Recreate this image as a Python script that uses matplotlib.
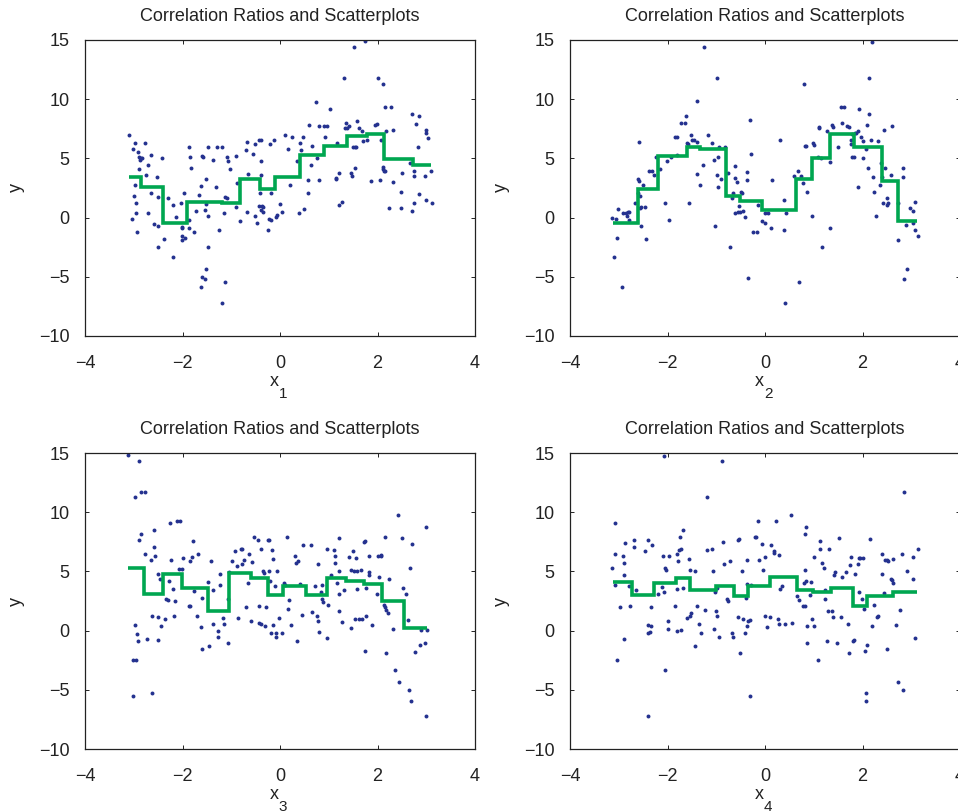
import matplotlib
matplotlib.use("Agg")
import matplotlib.pyplot as plt

plt.rcParams['font.family'] = ['Liberation Sans', 'DejaVu Sans']
plt.rcParams['mathtext.default'] = 'regular'

title_text = "Correlation Ratios and Scatterplots"
x_names = ["x", "x", "x", "x"]
x_subs = ["1", "2", "3", "4"]
x_ticks = [-4, -2, 0, 2, 4]
y_ticks = [-10, -5, 0, 5, 10, 15]

# ---------------- panel 1 ----------------
x1 = [-3.09,-2.97,-2.76,-3.02,-2.91,-2.89,-2.86,-2.87,-2.84,-2.65,
      -2.42,-2.70,-2.89,-2.74,-2.53,-2.98,-2.64,-3.00,-2.51,-2.96,
      -2.30,-2.20,-2.04,-1.96,-2.96,-2.71,-3.04,-2.94,-2.59,-2.51,
      -2.38,-2.51,-2.20,-2.13,-2.01,-2.01,-1.86,-1.95,-2.01,-2.01,
      -1.86,-1.77,-1.73,-1.66,-1.87,-1.85,-1.83,-1.61,-1.58,-1.47,
      -1.52,-1.62,-1.52,-1.53,-1.48,-1.47,-1.52,-1.61,-1.53,-1.62,
      -1.37,-1.32,-1.30,-1.19,-1.09,-1.07,-1.03,-1.13,-1.08,-1.14,
      -1.26,-1.13,-1.19,-0.90,-0.88,-0.90,-0.82,-0.70,-0.68,-0.66,
      -0.55,-0.52,-0.44,-0.38,-0.38,-0.40,-0.42,-0.44,-0.37,-0.35,
      -0.40,-0.35,-0.51,-0.48,-0.67,-0.20,-0.12,-0.18,-0.23,-0.18,
      -0.24,-0.07,-0.08,0.01,0.05,0.10,0.16,0.25,0.20,0.34,
      0.38,0.41,0.44,0.47,0.50,0.59,0.57,0.58,0.63,0.66,
      0.74,0.75,0.81,0.81,0.90,0.96,0.92,1.02,1.16,1.14,
      1.15,1.22,1.20,1.28,1.31,1.35,1.34,1.37,1.41,1.45,
      1.47,1.49,1.54,1.56,1.53,1.52,1.57,1.62,1.68,1.71,
      1.75,1.79,1.86,1.95,1.99,2.00,2.08,2.12,2.16,2.17,
      2.12,2.14,2.11,2.16,2.06,2.27,2.32,2.31,2.23,2.48,
      2.49,2.51,2.66,2.70,2.79,2.85,2.83,2.75,2.75,2.85,
      2.75,2.71,3.00,3.03,2.97,3.09,3.00,3.11,3.00]
y1 = [6.94,6.32,6.26,5.81,5.56,5.14,5.06,4.86,5.00,5.31,
      5.06,4.44,4.07,3.57,3.40,2.75,2.11,1.83,1.74,1.26,
      1.63,1.10,1.21,2.11,0.37,0.42,-0.08,-1.18,-0.51,-0.73,
      -1.80,-2.47,-3.31,0.03,-0.76,-0.90,-0.17,-1.71,-1.55,-1.85,
      -0.84,-1.21,0.56,1.88,5.93,5.14,4.19,5.20,5.08,5.98,
      3.29,2.70,1.18,0.65,0.17,-2.50,-4.35,-5.03,-5.22,-5.90,
      4.86,2.61,5.96,5.98,5.11,4.75,4.07,1.71,1.63,0.42,
      -1.04,-5.45,-7.22,5.20,2.92,0.93,-0.25,5.70,6.35,3.68,
      5.34,6.21,6.55,6.55,4.80,3.57,2.11,0.98,1.01,0.90,
      0.65,0.48,0.14,-0.48,0.48,6.21,6.55,2.08,-0.14,-0.17,
      -1.04,0.22,0.08,1.12,0.51,6.94,5.76,6.83,2.72,4.80,
      0.42,6.32,5.70,6.83,0.73,7.84,3.17,2.05,4.41,6.04,
      9.80,5.06,7.70,3.17,7.70,7.70,6.77,9.16,6.26,3.37,
      3.29,3.74,1.04,1.32,11.77,8.01,7.58,7.53,7.72,3.74,
      3.51,5.93,5.93,5.93,4.21,14.44,8.20,7.56,7.28,6.46,
      14.92,6.55,3.12,7.84,7.92,11.80,6.57,11.32,9.35,7.30,
      4.13,3.96,4.24,3.90,3.17,9.30,7.39,3.01,0.84,0.84,
      2.19,3.74,4.63,8.79,7.92,8.57,5.98,3.93,3.51,2.02,
      1.26,0.56,7.16,6.74,3.51,3.90,1.49,1.21,7.44]
edges1 = [-3.09,-2.85,-2.40,-1.91,-1.20,-0.82,-0.41,-0.10,0.42,0.91,1.37,1.78,2.13,2.73,3.09]
means1 = [3.40,2.61,-0.42,1.35,1.21,3.26,2.39,3.46,5.25,6.04,6.88,7.05,4.92,4.44]

# ---------------- panel 2 ----------------
x2 = [-3.14,-3.05,-3.09,-3.04,-3.02,-2.92,-2.94,-2.85,-2.81,-2.83,
      -2.80,-2.79,-2.66,-2.61,-2.60,-2.58,-2.57,-2.54,-2.56,-2.55,
      -2.51,-2.58,-2.46,-2.44,-2.38,-2.31,-2.27,-2.24,-2.15,-2.05,
      -2.01,-1.97,-1.93,-1.84,-1.81,-1.80,-1.72,-1.64,-1.62,-1.61,
      -1.57,-1.56,-1.52,-1.49,-1.45,-1.39,-1.40,-1.39,-1.33,-1.28,
      -1.26,-1.17,-1.09,-1.04,-1.02,-0.98,-0.99,-0.97,-0.96,-0.94,
      -0.90,-0.82,-0.75,-0.72,-0.68,-0.66,-0.61,-0.61,-0.58,-0.61,
      -0.56,-0.53,-0.52,-0.49,-0.48,-0.46,-0.41,-0.37,-0.37,-0.35,
      -0.30,-0.29,-0.25,-0.16,-0.14,-0.07,-0.01,0.00,0.12,0.15,
      0.07,0.31,0.38,0.39,0.40,0.44,0.59,0.68,0.70,0.73,
      0.77,0.81,0.83,0.85,0.87,0.96,0.99,1.01,1.08,1.11,
      1.11,1.15,1.17,1.27,1.33,1.33,1.37,1.40,1.50,1.57,
      1.56,1.62,1.69,1.72,1.76,1.77,1.79,1.79,1.83,1.84,
      1.87,1.90,1.91,1.93,1.97,2.01,2.02,2.08,2.10,2.13,
      2.14,2.17,2.12,2.19,2.22,2.23,2.27,2.32,2.36,2.38,
      2.41,2.42,2.44,2.46,2.50,2.51,2.53,2.59,2.61,2.72,
      2.73,2.84,2.84,2.85,2.90,2.92,2.98,3.03,3.04,3.07,
      3.07,3.13]
y2 = [-0.06,-0.14,-3.31,-1.71,0.73,0.39,-5.90,0.42,0.51,0.11,
      -0.20,0.51,1.26,2.05,3.26,3.12,1.83,0.93,0.84,-0.70,
      2.75,6.38,0.93,-1.80,3.90,3.90,3.57,5.08,4.13,1.21,
      4.78,-0.22,5.08,6.83,6.77,5.28,7.95,7.95,8.57,6.32,
      6.24,1.21,6.94,6.55,6.55,6.35,9.83,3.68,2.72,4.44,
      14.41,6.97,6.32,4.86,-0.70,11.80,3.57,2.56,5.14,5.93,
      3.26,5.93,3.79,-2.47,1.63,2.11,4.38,3.31,2.98,0.42,
      0.45,1.01,0.45,2.19,2.05,0.53,0.03,3.82,3.17,-5.06,
      8.23,5.37,-1.18,-1.18,1.07,-0.25,-0.48,0.37,-0.84,3.17,
      0.42,6.55,1.52,-1.04,-7.22,0.42,3.54,3.90,-5.45,3.51,
      2.89,11.32,6.07,6.01,2.13,0.14,6.26,6.12,5.08,7.61,
      7.53,5.06,-2.50,7.28,4.72,-0.84,7.81,7.67,5.98,7.95,
      9.30,9.30,7.72,7.67,6.21,6.55,7.02,5.08,5.14,7.11,
      7.16,7.33,2.61,9.16,6.83,6.49,5.03,5.79,7.84,11.77,
      8.79,6.55,4.19,14.86,3.40,2.16,0.17,6.49,2.78,4.58,
      3.40,1.21,7.39,4.16,1.63,1.07,1.21,3.60,7.70,1.21,
      -1.85,4.21,3.40,-5.20,-0.62,-4.35,0.84,-0.48,0.56,1.29,
      -1.04,-1.52]
edges2 = [-3.12,-2.61,-2.20,-1.60,-1.33,-0.79,-0.51,-0.06,0.63,0.97,1.34,1.82,2.40,2.72,3.12]
means2 = [-0.48,2.42,5.20,5.98,5.79,1.85,1.40,0.65,3.23,5.00,7.05,5.98,3.12,-0.28]

# ---------------- panel 3 ----------------
x3 = [-3.12,-2.90,-2.97,-2.86,-2.77,-2.86,-2.90,-2.76,-2.98,-2.94,
      -2.91,-3.02,-2.95,-3.02,-2.72,-2.65,-2.63,-2.59,-2.59,-2.57,
      -2.51,-2.47,-2.51,-2.51,-2.44,-2.35,-2.62,-2.33,-2.29,-2.26,
      -2.27,-2.24,-2.20,-2.16,-2.18,-2.12,-2.05,-2.08,-2.01,-1.99,
      -1.86,-1.84,-1.84,-1.79,-1.80,-1.76,-1.71,-1.69,-1.62,-1.61,
      -1.60,-1.48,-1.45,-1.41,-1.38,-1.37,-1.28,-1.27,-1.24,-1.23,
      -1.16,-1.14,-1.06,-1.07,-1.04,-0.98,-0.92,-0.89,-0.86,-0.81,
      -0.78,-0.77,-0.73,-0.70,-0.66,-0.63,-0.60,-0.57,-0.53,-0.46,
      -0.44,-0.43,-0.40,-0.39,-0.34,-0.33,-0.31,-0.29,-0.24,-0.22,
      -0.23,-0.20,-0.19,-0.16,-0.15,-0.14,-0.10,-0.08,-0.09,-0.07,
      -0.02,0.05,0.08,0.10,0.15,0.17,0.18,0.23,0.31,0.33,
      0.35,0.37,0.41,0.46,0.48,0.63,0.66,0.72,0.77,0.76,
      0.78,0.81,0.84,0.86,0.87,0.89,0.96,0.97,0.98,1.04,
      1.11,1.12,1.13,1.17,1.21,1.22,1.22,1.22,1.27,1.32,
      1.41,1.45,1.45,1.50,1.52,1.54,1.56,1.57,1.58,1.62,
      1.66,1.68,1.72,1.74,1.75,1.76,1.77,1.82,1.83,1.83,
      1.89,1.98,2.01,2.03,2.07,2.08,2.13,2.15,2.17,2.15,
      2.18,2.22,2.24,2.32,2.35,2.42,2.45,2.50,2.53,2.58,
      2.63,2.64,2.66,2.68,2.70,2.76,2.87,2.90,2.97,2.99,
      3.00,3.02]
y3 = [14.79,14.34,11.26,11.74,11.68,8.15,7.65,6.50,0.50,-0.25,
      -0.87,-2.52,-2.52,-5.49,-0.73,5.94,1.20,8.52,7.09,6.33,
      4.76,4.37,1.15,-0.76,0.39,0.98,-5.24,2.63,2.58,9.10,
      4.15,5.99,3.53,2.49,1.26,9.24,9.24,5.24,5.24,6.16,
      2.07,2.07,5.88,7.56,6.22,3.33,1.20,6.44,0.34,-1.54,
      2.74,4.12,-1.26,5.85,3.47,0.59,0.00,-0.50,4.82,3.87,
      1.06,0.53,-1.04,2.69,4.96,5.88,6.72,5.46,1.06,6.92,
      6.86,5.66,5.94,2.02,4.03,6.50,0.81,5.77,7.93,7.65,
      2.07,0.62,0.53,6.89,5.04,4.85,0.39,2.02,7.65,7.62,
      5.04,4.15,-0.17,6.81,0.48,6.02,3.73,-0.53,-0.20,5.04,
      1.06,-0.22,3.98,3.87,7.87,1.82,2.58,0.45,6.30,5.71,
      -0.90,5.91,3.92,1.32,7.23,7.23,1.57,3.73,5.66,1.20,
      0.78,-0.11,3.25,2.69,3.87,2.38,6.86,-0.64,2.18,4.71,
      6.78,6.33,5.71,3.98,1.68,3.08,7.82,5.04,0.70,3.47,
      6.22,0.25,5.15,6.72,5.04,0.98,6.16,5.04,3.53,0.95,
      5.10,0.95,7.48,7.56,-1.74,1.20,3.56,4.73,4.99,6.30,
      0.45,3.11,6.27,4.54,6.33,6.39,2.16,2.02,1.74,7.90,
      -1.88,1.48,4.40,0.11,-3.33,9.75,-4.37,7.79,3.64,3.11,
      0.90,-5.04,5.32,-5.94,7.34,-1.82,-1.23,0.06,-1.06,-7.23,
      8.74,0.08]
edges3 = [-3.12,-2.78,-2.40,-2.01,-1.48,-1.04,-0.59,-0.24,0.07,0.53,0.96,1.35,1.72,2.10,2.54,3.02]
means3 = [5.29,3.08,4.76,3.64,1.65,4.85,4.43,3.00,3.75,3.00,4.43,4.15,3.92,2.46,0.22]

# ---------------- panel 4 ----------------
x4 = [-3.14,-3.08,-3.08,-3.08,-3.04,-2.97,-2.91,-2.89,-2.89,-2.89,
      -2.87,-2.80,-2.76,-2.68,-2.68,-2.65,-2.47,-2.39,-2.40,-2.39,
      -2.40,-2.35,-2.33,-2.32,-2.33,-2.20,-2.11,-2.10,-2.08,-2.07,
      -2.05,-2.05,-2.03,-1.99,-1.98,-1.97,-1.84,-1.81,-1.80,-1.80,
      -1.79,-1.77,-1.74,-1.73,-1.72,-1.69,-1.68,-1.59,-1.56,-1.54,
      -1.53,-1.52,-1.44,-1.43,-1.40,-1.35,-1.31,-1.24,-1.19,-1.18,
      -1.09,-1.06,-1.05,-1.02,-1.00,-0.98,-0.98,-0.95,-0.88,-0.86,
      -0.84,-0.78,-0.75,-0.71,-0.67,-0.66,-0.56,-0.55,-0.53,-0.52,
      -0.48,-0.46,-0.41,-0.40,-0.37,-0.37,-0.36,-0.34,-0.31,-0.30,
      -0.29,-0.20,-0.18,-0.15,-0.12,-0.07,-0.05,-0.01,0.01,0.05,
      0.10,0.12,0.18,0.19,0.23,0.27,0.28,0.29,0.31,0.34,
      0.40,0.54,0.55,0.66,0.70,0.78,0.82,0.81,0.83,0.84,
      0.83,0.85,0.87,0.87,0.94,0.93,0.96,1.00,1.01,1.08,
      1.12,1.13,1.17,1.20,1.23,1.24,1.28,1.29,1.32,1.37,
      1.39,1.41,1.43,1.47,1.52,1.55,1.58,1.66,1.70,1.73,
      1.74,1.77,1.81,1.83,1.84,1.91,1.92,1.93,1.95,1.98,
      2.01,2.03,2.06,2.08,2.08,2.10,2.15,2.20,2.23,2.29,
      2.32,2.40,2.41,2.44,2.47,2.50,2.53,2.51,2.58,2.60,
      2.62,2.63,2.68,2.72,2.76,2.82,2.83,2.85,2.91,3.04,
      3.04,3.07,3.13]
y4 = [5.27,9.10,6.50,3.87,-2.49,2.02,6.30,5.71,4.73,-0.73,
      7.42,3.73,2.07,7.65,7.06,3.45,6.72,7.65,0.50,-0.17,
      -7.23,-0.14,0.42,7.23,2.02,3.11,3.70,6.33,14.76,3.28,
      -3.31,5.32,5.15,0.78,0.11,6.33,2.07,6.50,0.00,3.53,
      5.85,6.78,7.90,6.92,0.06,8.52,3.64,1.04,6.05,1.20,
      5.15,1.48,-1.26,5.04,2.07,0.53,-0.22,1.71,6.78,11.26,
      6.86,5.04,0.11,3.22,1.62,1.26,3.59,-0.56,14.34,7.51,
      5.66,2.69,2.49,5.88,-0.20,-0.53,1.18,7.65,7.76,-1.85,
      5.04,0.98,-0.20,2.74,3.92,5.94,0.36,0.81,0.87,-5.49,
      3.87,7.87,7.93,9.27,5.94,7.34,5.10,6.22,1.26,0.28,
      1.15,7.23,6.72,6.53,9.24,0.98,6.41,0.59,3.53,3.75,
      0.53,9.75,0.67,2.89,2.58,2.04,5.13,4.03,2.07,8.74,
      8.15,4.15,-1.04,0.42,4.12,2.97,0.95,0.39,6.22,-2.52,
      7.53,6.89,5.74,5.29,2.69,3.47,-0.90,1.65,6.89,1.62,
      1.12,4.71,4.99,-1.04,7.84,1.12,4.54,4.96,0.59,-1.88,
      5.52,6.22,-0.87,-0.78,4.76,5.66,6.13,3.30,6.16,2.63,
      6.16,1.82,-1.71,-5.24,-5.94,-1.23,7.70,0.42,2.13,1.15,
      1.20,6.50,4.79,3.14,5.94,5.94,5.88,-1.57,4.40,4.29,
      6.02,4.01,0.50,-4.37,1.76,6.47,-5.04,11.68,5.07,6.25,
      4.37,-0.64,6.92]
edges4 = [-3.12,-2.73,-2.27,-1.82,-1.54,-1.01,-0.63,-0.34,0.10,0.66,0.99,1.35,1.81,2.10,2.63,3.12]
means4 = [4.09,3.03,3.98,4.48,3.42,3.73,2.91,3.75,4.54,3.45,3.22,3.56,2.04,2.91,3.28]

panels = [(x1, y1, edges1, means1), (x2, y2, edges2, means2),
          (x3, y3, edges3, means3), (x4, y4, edges4, means4)]

W, H = 958, 811
fig = plt.figure(figsize=(W / 100, H / 100), dpi=100)
fig.patch.set_facecolor('white')

# axes rectangles in pixels: (left, top, right, bottom)
rects = [(85, 40, 475, 336), (570, 40, 960, 336),
         (85, 453, 475, 749), (570, 453, 960, 749)]

dot_color = '#24318f'
line_color = '#00a650'
txt_color = '#222222'

for i, ((xs, ys, ed, mv), (l, t, r, b)) in enumerate(zip(panels, rects)):
    ax = fig.add_axes([l / W, (H - b) / H, (r - l) / W, (b - t) / H])
    ax.scatter(xs, ys, s=8, color=dot_color, linewidths=0, zorder=2)
    ax.stairs(mv, ed, color=line_color, linewidth=2.6, baseline=None, zorder=3)
    ax.set_xlim(-4, 4)
    ax.set_ylim(-10, 15)
    ax.set_xticks(x_ticks)
    ax.set_yticks(y_ticks)
    ax.tick_params(direction='in', length=3, width=0.7, top=True, right=True,
                   labelsize=13, colors=txt_color)
    ax.tick_params(axis='x', pad=14)
    ax.tick_params(axis='y', pad=11)
    for sp in ax.spines.values():
        sp.set_linewidth(0.9)
        sp.set_color(txt_color)
    ax.set_title(title_text, fontsize=13, pad=14, color=txt_color)
    # x label with a MATLAB-like low subscript
    ax.annotate(x_names[i], xy=(0.5, 0), xycoords='axes fraction',
                xytext=(-4.0, -32.5), textcoords='offset points',
                ha='center', va='center', fontsize=13, color=txt_color)
    ax.annotate(x_subs[i], xy=(0.5, 0), xycoords='axes fraction',
                xytext=(2.3, -41.5), textcoords='offset points',
                ha='center', va='center', fontsize=11, color=txt_color)
    ax.set_ylabel('y', fontsize=13, labelpad=10, color=txt_color)

fig.savefig('out.png', dpi=100, facecolor='white')
